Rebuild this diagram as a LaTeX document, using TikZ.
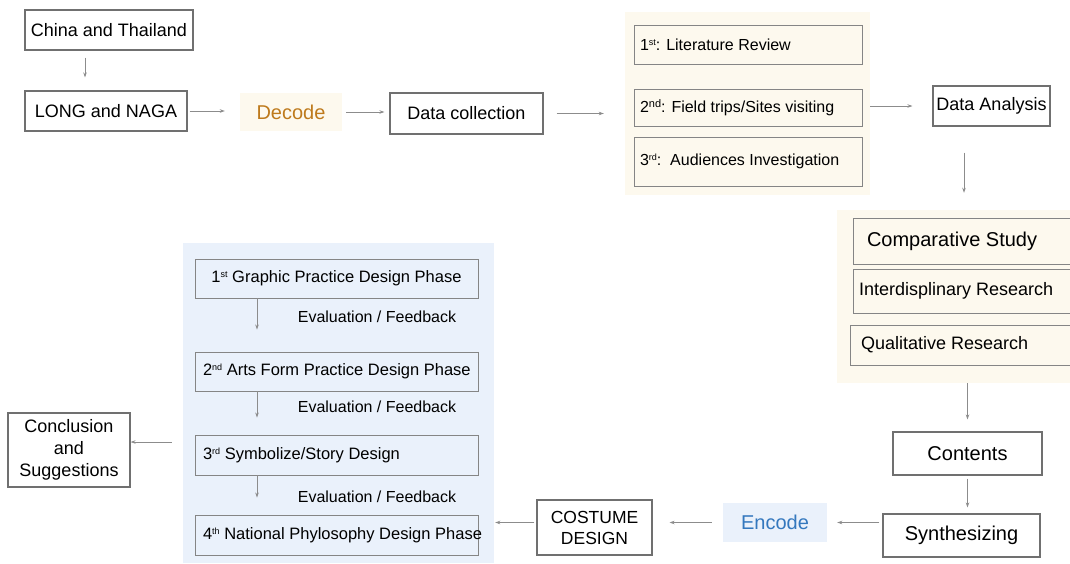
\documentclass[tikz,border=0pt]{standalone}
\usepackage{fontspec}
\setmainfont{Liberation Sans}
\usetikzlibrary{arrows.meta}
\definecolor{cream}{RGB}{253,249,238}
\definecolor{paleblue}{RGB}{234,241,251}
\definecolor{decodetxt}{RGB}{190,122,28}
\definecolor{encodetxt}{RGB}{52,120,190}
\definecolor{edge}{RGB}{112,112,112}
\definecolor{conn}{RGB}{140,140,140}
\newcommand{\ord}[2]{#1\raisebox{.55ex}{\fontsize{9}{9}\selectfont#2}}
\newcommand{\leftin}[2]{\makebox[#1][l]{#2}}
\newcommand{\fs}[1]{\fontsize{#1}{1.2\dimexpr#1pt\relax}\selectfont}

\begin{document}
\begin{tikzpicture}[x=1pt,y=-1pt,
    every node/.style={inner sep=0pt,font=\fs{18}},
    box/.style={draw=edge,line width=1.1pt,fill=white},
    inbox/.style={draw=edge!85,line width=0.9pt},
    arr/.style={draw=conn,line width=0.9pt,-{Stealth[length=5pt,width=3.5pt]}}
  ]
  \useasboundingbox (0,0) rectangle (1070,563);

  % top row
  \node[box,minimum width=168pt,minimum height=40pt] (china) at (109,30) {China and Thailand};
  \node[box,minimum width=162pt,minimum height=40pt] (longnaga) at (106,111) {LONG and NAGA};
  \node[fill=cream,minimum width=102pt,minimum height=38pt,text=decodetxt,font=\fs{20}] (decode) at (291,112) {Decode};
  \node[box,minimum width=153pt,minimum height=41pt] (collect) at (466.5,113.5) {Data collection};

  % data collection methods
  \node[fill=cream,minimum width=245pt,minimum height=183pt] (litpanel) at (747.5,103.5) {};
  \node[inbox,inner xsep=6pt,minimum height=39pt,font=\fs{16}] (lit1) at (748,44.5) {\leftin{216pt}{\ord{1}{st}: Literature Review}};
  \node[inbox,inner xsep=6pt,minimum height=37pt,font=\fs{16}] (lit2) at (748,107.5) {\leftin{216pt}{2\raisebox{.55ex}{\fontsize{11}{11}\selectfont nd}: Field trips/Sites visiting}};
  \node[inbox,inner xsep=6pt,minimum height=49pt,font=\fs{16}] (lit3) at (748,161.5) {\leftin{216pt}{\ord{3}{rd}:\ \ Audiences Investigation}};
  \node[box,minimum width=117pt,minimum height=40pt] (analysis) at (991.5,106) {Data Analysis};

  % research methods (cut by the right edge)
  \node[fill=cream,minimum width=238pt,minimum height=173pt] (methpanel) at (956,296.5) {};
  \node[inbox,inner xsep=14pt,minimum height=46pt,font=\fs{20}] (comp) at (964,241) {\leftin{194pt}{Comparative Study}};
  \node[inbox,inner xsep=6pt,minimum height=44pt] (inter) at (964,291) {\leftin{210pt}{Interdisplinary Research}};
  \node[inbox,inner xsep=11pt,minimum height=40pt] (qual) at (962.5,345) {\leftin{203pt}{Qualitative Research}};

  % bottom row
  \node[box,minimum width=149pt,minimum height=43pt,font=\fs{20}] (contents) at (967.5,453.5) {Contents};
  \node[box,minimum width=157pt,minimum height=43pt,font=\fs{20}] (synth) at (961.5,535.5) {Synthesizing};
  \node[fill=paleblue,minimum width=104pt,minimum height=39pt,text=encodetxt,font=\fs{20}] (encode) at (775,522.5) {Encode};
  \node[box,minimum width=115pt,minimum height=55pt,align=center,font=\fontsize{17.5}{21}\selectfont] (costume) at (594.5,527.5) {COSTUME\\DESIGN};

  % design phases
  \node[fill=paleblue,minimum width=311pt,minimum height=320pt] (phasepanel) at (338.5,403) {};
  \node[inbox,minimum width=283pt,minimum height=39pt,font=\fs{16.5}] (ph1) at (336.5,278.5) {\ord{1}{st} Graphic Practice Design Phase};
  \node[inbox,inner xsep=8pt,minimum height=39pt,font=\fs{16.5}] (ph2) at (336.5,371.5) {\leftin{267pt}{\ord{2}{nd} Arts Form Practice Design Phase}};
  \node[inbox,inner xsep=8pt,minimum height=40pt,font=\fs{16.5}] (ph3) at (336.5,455) {\leftin{267pt}{\ord{3}{rd} Symbolize/Story Design}};
  \node[inbox,inner xsep=8pt,minimum height=40pt,font=\fs{16.5}] (ph4) at (336.5,535) {\leftin{267pt}{\ord{4}{th} National Phylosophy Design Phase}};
  \node[font=\fs{16}] (fb1) at (377,317) {Evaluation / Feedback};
  \node[font=\fs{16}] (fb2) at (377,407) {Evaluation / Feedback};
  \node[font=\fs{16}] (fb3) at (377,497) {Evaluation / Feedback};

  \node[box,minimum width=122pt,minimum height=74pt,align=center,font=\fontsize{18}{22}\selectfont] (concl) at (69,450) {Conclusion\\and\\Suggestions};

  % connectors
  \draw[arr,shorten <=7pt,shorten >=13pt] ([xshift=-24pt]china.south) -- ([xshift=-21pt]longnaga.north);
  \draw[arr,shorten <=2pt,shorten >=15pt] (longnaga.east) -- (longnaga.east -| decode.west);
  \draw[arr,shorten <=4pt,shorten >=5pt] (decode.east) -- (decode.east -| collect.west);
  \draw[arr,shorten <=13pt,shorten >=21pt] (collect.east) -- (collect.east -| litpanel.west);
  \draw[arr,shorten >=20pt] (analysis.west -| litpanel.east) -- (analysis.west);
  \draw[arr,shorten <=26pt,shorten >=17pt] ([xshift=-27.5pt]analysis.south) -- ([xshift=-27.5pt]analysis.south |- methpanel.north);
  \draw[arr,shorten >=12pt] (contents.north |- methpanel.south) -- (contents.north);
  \draw[arr,shorten <=3pt,shorten >=6pt] (contents.south) -- (contents.south |- synth.north);
  \draw[arr,shorten <=3pt,shorten >=10pt] (encode.east -| synth.west) -- (encode.east);
  \draw[arr,shorten <=11pt,shorten >=17pt] (encode.west) -- (encode.west -| costume.east);
  \draw[arr,shorten <=2pt,shorten >=1pt] (costume.west |- encode.west) -- (phasepanel.east |- encode.west);
  \draw[arr,shorten >=22pt] ([xshift=-79.5pt]ph1.south) -- ([xshift=-79.5pt]ph2.north);
  \draw[arr,shorten >=17pt] ([xshift=-79.5pt]ph2.south) -- ([xshift=-79.5pt]ph3.north);
  \draw[arr,shorten >=17pt] ([xshift=-79.5pt]ph3.south) -- ([xshift=-79.5pt]ph4.north);
  \coordinate (cmid) at ([yshift=8pt]concl.east);
  \draw[arr,shorten <=11pt] (phasepanel.west |- cmid) -- (cmid);
\end{tikzpicture}
\end{document}
